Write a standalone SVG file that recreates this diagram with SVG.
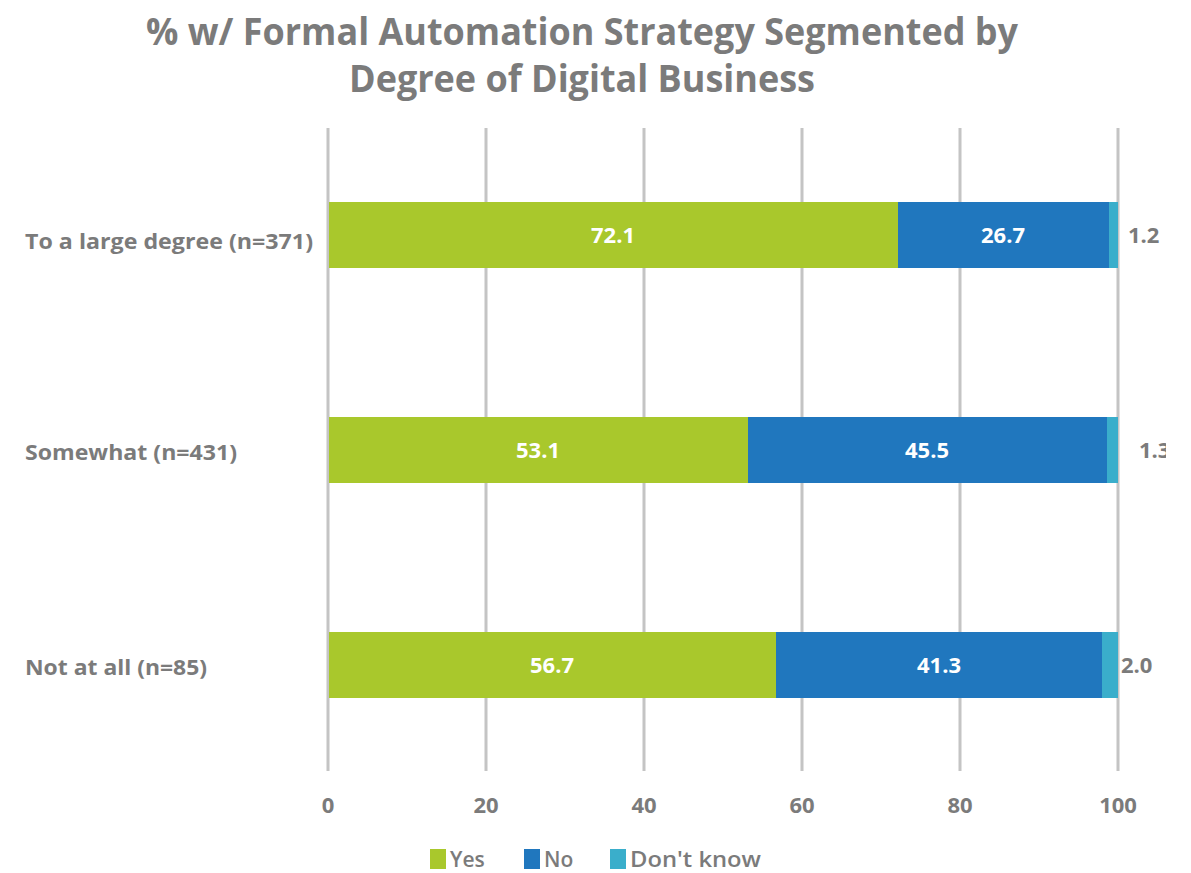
<svg xmlns="http://www.w3.org/2000/svg" width="1191" height="873" viewBox="0 0 1191 873">
<defs>
<style>
.t{font-family:"Open Sans","Liberation Sans",sans-serif;font-weight:700;fill:#7b7b7b}
.title{font-size:38px;font-weight:700;text-anchor:middle}
.cat{font-size:22px}
.v{font-family:"Open Sans","Liberation Sans",sans-serif;font-weight:700;font-size:22px;fill:#ffffff;text-anchor:middle}
.out{font-size:22px}
.ax{font-size:22px;text-anchor:middle}
.leg{font-size:21px;font-weight:600}
.grid{stroke:#c4c4c4;stroke-width:3}
.yes{fill:#a9c82c}
.no{fill:#2077be}
.dk{fill:#3aaecb}
</style>
<clipPath id="clipR"><rect x="0" y="0" width="1166" height="873"/></clipPath>
</defs>
<rect width="1191" height="873" fill="#ffffff"/>
<text class="t title" x="582" y="45" textLength="872" lengthAdjust="spacingAndGlyphs">% w/ Formal Automation Strategy Segmented by</text>
<text class="t title" x="582" y="92" textLength="466" lengthAdjust="spacingAndGlyphs">Degree of Digital Business</text>
<g id="grid">
<line class="grid" x1="328" y1="128" x2="328" y2="771"/>
<line class="grid" x1="486" y1="128" x2="486" y2="771"/>
<line class="grid" x1="644" y1="128" x2="644" y2="771"/>
<line class="grid" x1="802" y1="128" x2="802" y2="771"/>
<line class="grid" x1="960" y1="128" x2="960" y2="771"/>
<line class="grid" x1="1118" y1="128" x2="1118" y2="771"/>
</g>
<g id="row1">
<text class="t cat" x="25" y="249" textLength="288" lengthAdjust="spacingAndGlyphs">To a large degree (n=371)</text>
<rect class="yes" x="329" y="202" width="569" height="66"/>
<rect class="no" x="898" y="202" width="211" height="66"/>
<rect class="dk" x="1109" y="202" width="9" height="66"/>
<text class="v" x="613" y="243">72.1</text>
<text class="v" x="1003" y="243">26.7</text>
<text class="t out" x="1128" y="243">1.2</text>
</g>
<g id="row2">
<text class="t cat" x="25" y="460" textLength="212" lengthAdjust="spacingAndGlyphs">Somewhat (n=431)</text>
<rect class="yes" x="329" y="417" width="419" height="66"/>
<rect class="no" x="748" y="417" width="359" height="66"/>
<rect class="dk" x="1107" y="417" width="11" height="66"/>
<text class="v" x="538" y="458">53.1</text>
<text class="v" x="927" y="458">45.5</text>
<text class="t out" x="1139" y="458" clip-path="url(#clipR)">1.3</text>
</g>
<g id="row3">
<text class="t cat" x="25" y="675" textLength="182" lengthAdjust="spacingAndGlyphs">Not at all (n=85)</text>
<rect class="yes" x="329" y="632" width="447" height="66"/>
<rect class="no" x="776" y="632" width="326" height="66"/>
<rect class="dk" x="1102" y="632" width="16" height="66"/>
<text class="v" x="552" y="673">56.7</text>
<text class="v" x="939" y="673">41.3</text>
<text class="t out" x="1121" y="673">2.0</text>
</g>
<g id="axis">
<text class="t ax" x="328" y="813">0</text>
<text class="t ax" x="486" y="813">20</text>
<text class="t ax" x="644" y="813">40</text>
<text class="t ax" x="802" y="813">60</text>
<text class="t ax" x="960" y="813">80</text>
<text class="t ax" x="1118" y="813">100</text>
</g>
<g id="legend">
<rect class="yes" x="430" y="849" width="16" height="20"/>
<text class="t leg" x="450" y="867">Yes</text>
<rect class="no" x="524" y="849" width="16" height="20"/>
<text class="t leg" x="544" y="867">No</text>
<rect class="dk" x="610" y="849" width="16" height="20"/>
<text class="t leg" x="630" y="867" textLength="131" lengthAdjust="spacingAndGlyphs">Don't know</text>
</g>
</svg>
